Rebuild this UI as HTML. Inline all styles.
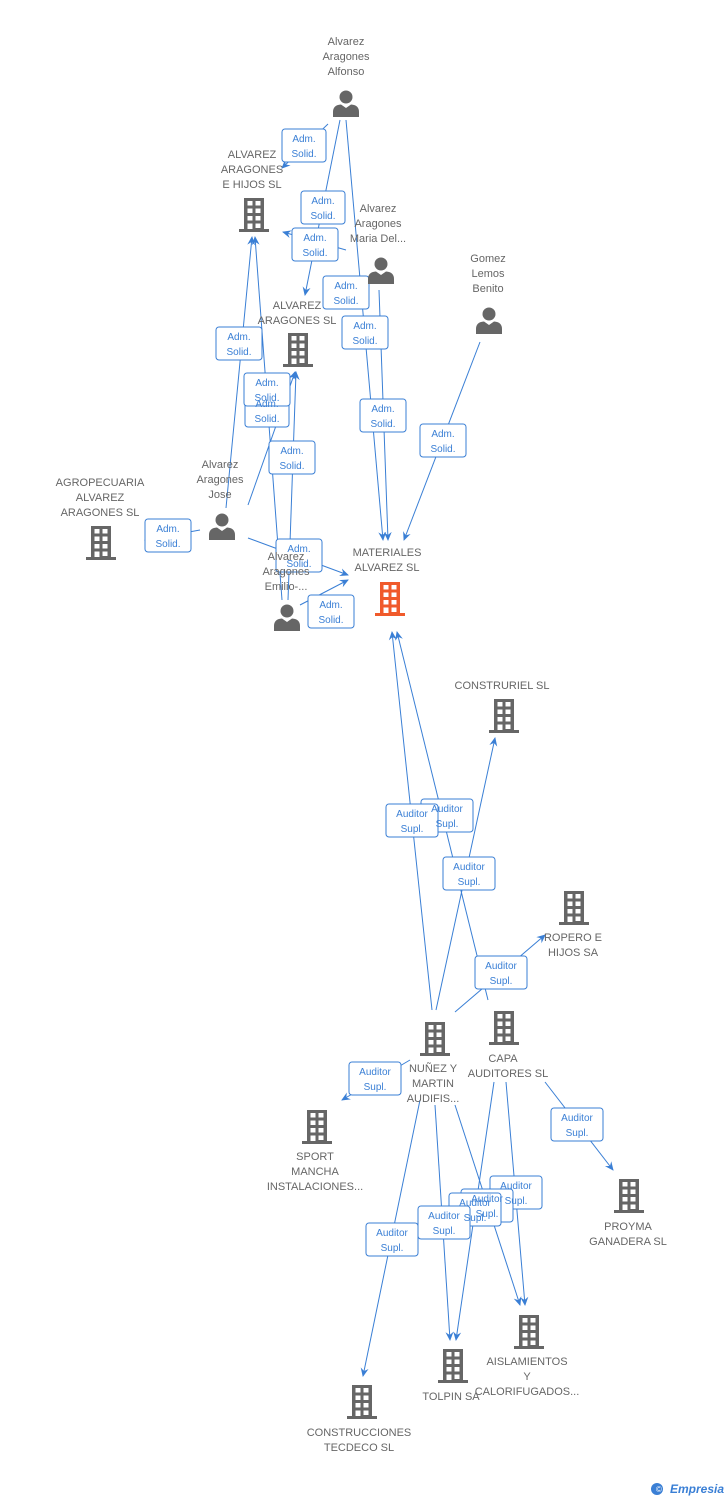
<!DOCTYPE html>
<html><head><meta charset="utf-8"><style>
body{margin:0;background:#fff;width:728px;height:1500px;overflow:hidden}
svg text{font-family:"Liberation Sans",sans-serif;font-size:11px;fill:#666;text-anchor:middle}
.l text{fill:#3a7fd5;font-size:10px}
</style></head><body>
<svg width="728" height="1500" viewBox="0 0 728 1500">
<defs>
<symbol id="b" viewBox="0 0 30 34"><rect x="5" y="0" width="20" height="32" fill="currentColor"/><rect x="0" y="31" width="30" height="3" fill="currentColor"/>
<g fill="#fff"><rect x="8.5" y="3" width="5" height="4.5"/><rect x="16.5" y="3" width="5" height="4.5"/><rect x="8.5" y="10.5" width="5" height="4.5"/><rect x="16.5" y="10.5" width="5" height="4.5"/><rect x="8.5" y="18" width="5" height="4.5"/><rect x="16.5" y="18" width="5" height="4.5"/><rect x="8.5" y="25.5" width="5" height="5.5"/><rect x="16.5" y="25.5" width="5" height="4.5"/></g></symbol>
<symbol id="p" viewBox="0 0 28 28"><circle cx="14" cy="8" r="6.5" fill="#666"/><path d="M1 28 L1 23 Q1 16 9 15.5 L14 19 L19 15.5 Q27 16 27 23 L27 28Z" fill="#666"/></symbol>
<marker id="a" markerWidth="10" markerHeight="10" refX="8" refY="5" orient="auto" markerUnits="userSpaceOnUse"><path d="M0 1 L9 5 L0 9 L3 5Z" fill="#3a7fd5"/></marker>
</defs>
<g stroke="#3a7fd5" stroke-width="1" fill="none" marker-end="url(#a)">
<line x1="328" y1="124" x2="282" y2="168"/>
<line x1="340" y1="120" x2="305" y2="295"/>
<line x1="346" y1="120" x2="383" y2="540"/>
<line x1="346" y1="250" x2="283" y2="232"/>
<line x1="379" y1="290" x2="388" y2="540"/>
<line x1="480" y1="342" x2="404" y2="540"/>
<line x1="226" y1="508" x2="252" y2="237"/>
<line x1="200" y1="530" x2="145" y2="540"/>
<line x1="248" y1="538" x2="348" y2="575"/>
<line x1="248" y1="505" x2="295" y2="372"/>
<line x1="282" y1="600" x2="255" y2="237"/>
<line x1="288" y1="600" x2="296" y2="372"/>
<line x1="300" y1="605" x2="348" y2="580"/>
<line x1="432" y1="1010" x2="392" y2="632"/>
<line x1="488" y1="1000" x2="397" y2="632"/>
<line x1="436" y1="1010" x2="495" y2="738"/>
<line x1="455" y1="1012" x2="545" y2="935"/>
<line x1="410" y1="1060" x2="342" y2="1100"/>
<line x1="420" y1="1100" x2="363" y2="1376"/>
<line x1="435" y1="1105" x2="450" y2="1340"/>
<line x1="455" y1="1105" x2="520" y2="1305"/>
<line x1="494" y1="1082" x2="456" y2="1340"/>
<line x1="506" y1="1082" x2="525" y2="1305"/>
<line x1="545" y1="1082" x2="613" y2="1170"/>
</g>
<g class="l">
<g fill="#fff" stroke="#3a7fd5" stroke-width="1">
<rect x="282" y="129" width="44" height="33" rx="3"/><rect x="301" y="191" width="44" height="33" rx="3"/><rect x="292" y="228" width="46" height="33" rx="3"/><rect x="323" y="276" width="46" height="33" rx="3"/><rect x="342" y="316" width="46" height="33" rx="3"/><rect x="360" y="399" width="46" height="33" rx="3"/><rect x="420" y="424" width="46" height="33" rx="3"/><rect x="216" y="327" width="46" height="33" rx="3"/><rect x="245" y="394" width="44" height="33" rx="3"/><rect x="244" y="373" width="46" height="33" rx="3"/><rect x="269" y="441" width="46" height="33" rx="3"/><rect x="145" y="519" width="46" height="33" rx="3"/><rect x="276" y="539" width="46" height="33" rx="3"/><rect x="308" y="595" width="46" height="33" rx="3"/>
<rect x="421" y="799" width="52" height="33" rx="3"/><rect x="386" y="804" width="52" height="33" rx="3"/><rect x="443" y="857" width="52" height="33" rx="3"/><rect x="475" y="956" width="52" height="33" rx="3"/><rect x="349" y="1062" width="52" height="33" rx="3"/><rect x="551" y="1108" width="52" height="33" rx="3"/><rect x="490" y="1176" width="52" height="33" rx="3"/><rect x="461" y="1189" width="52" height="33" rx="3"/><rect x="449" y="1193" width="52" height="33" rx="3"/><rect x="418" y="1206" width="52" height="33" rx="3"/><rect x="366" y="1223" width="52" height="33" rx="3"/>
</g>
<text x="304" y="142">Adm.</text><text x="304" y="157">Solid.</text>
<text x="323" y="204">Adm.</text><text x="323" y="219">Solid.</text>
<text x="315" y="241">Adm.</text><text x="315" y="256">Solid.</text>
<text x="346" y="289">Adm.</text><text x="346" y="304">Solid.</text>
<text x="365" y="329">Adm.</text><text x="365" y="344">Solid.</text>
<text x="383" y="412">Adm.</text><text x="383" y="427">Solid.</text>
<text x="443" y="437">Adm.</text><text x="443" y="452">Solid.</text>
<text x="239" y="340">Adm.</text><text x="239" y="355">Solid.</text>
<text x="267" y="407">Adm.</text><text x="267" y="422">Solid.</text>
<text x="267" y="386">Adm.</text><text x="267" y="401">Solid.</text>
<text x="292" y="454">Adm.</text><text x="292" y="469">Solid.</text>
<text x="168" y="532">Adm.</text><text x="168" y="547">Solid.</text>
<text x="299" y="552">Adm.</text><text x="299" y="567">Solid.</text>
<text x="331" y="608">Adm.</text><text x="331" y="623">Solid.</text>
<text x="447" y="812">Auditor</text><text x="447" y="827">Supl.</text>
<text x="412" y="817">Auditor</text><text x="412" y="832">Supl.</text>
<text x="469" y="870">Auditor</text><text x="469" y="885">Supl.</text>
<text x="501" y="969">Auditor</text><text x="501" y="984">Supl.</text>
<text x="375" y="1075">Auditor</text><text x="375" y="1090">Supl.</text>
<text x="577" y="1121">Auditor</text><text x="577" y="1136">Supl.</text>
<text x="516" y="1189">Auditor</text><text x="516" y="1204">Supl.</text>
<text x="487" y="1202">Auditor</text><text x="487" y="1217">Supl.</text>
<text x="475" y="1206">Auditor</text><text x="475" y="1221">Supl.</text>
<text x="444" y="1219">Auditor</text><text x="444" y="1234">Supl.</text>
<text x="392" y="1236">Auditor</text><text x="392" y="1251">Supl.</text>
</g>
<g color="#666">
<use href="#p" x="332" y="89" width="28" height="28"/>
<use href="#p" x="367" y="256" width="28" height="28"/>
<use href="#p" x="475" y="306" width="28" height="28"/>
<use href="#p" x="208" y="512" width="28" height="28"/>
<use href="#p" x="273" y="603" width="28" height="28"/>
<use href="#b" x="239" y="198" width="30" height="34"/>
<use href="#b" x="283" y="333" width="30" height="34"/>
<use href="#b" x="86" y="526" width="30" height="34"/>
<use href="#b" x="375" y="582" width="30" height="34" color="#f05a2b"/>
<use href="#b" x="489" y="699" width="30" height="34"/>
<use href="#b" x="559" y="891" width="30" height="34"/>
<use href="#b" x="420" y="1022" width="30" height="34"/>
<use href="#b" x="489" y="1011" width="30" height="34"/>
<use href="#b" x="302" y="1110" width="30" height="34"/>
<use href="#b" x="614" y="1179" width="30" height="34"/>
<use href="#b" x="514" y="1315" width="30" height="34"/>
<use href="#b" x="438" y="1349" width="30" height="34"/>
<use href="#b" x="347" y="1385" width="30" height="34"/>
</g>
<text x="346" y="45">Alvarez</text><text x="346" y="60">Aragones</text><text x="346" y="75">Alfonso</text>
<text x="378" y="212">Alvarez</text><text x="378" y="227">Aragones</text><text x="378" y="242">Maria Del...</text>
<text x="488" y="262">Gomez</text><text x="488" y="277">Lemos</text><text x="488" y="292">Benito</text>
<text x="220" y="468">Alvarez</text><text x="220" y="483">Aragones</text><text x="220" y="498">Jose</text>
<text x="286" y="560">Alvarez</text><text x="286" y="575">Aragones</text><text x="286" y="590">Emilio-...</text>
<text x="252" y="158">ALVAREZ</text><text x="252" y="173">ARAGONES</text><text x="252" y="188">E HIJOS SL</text>
<text x="297" y="309">ALVAREZ</text><text x="297" y="324">ARAGONES SL</text>
<text x="100" y="486">AGROPECUARIA</text><text x="100" y="501">ALVAREZ</text><text x="100" y="516">ARAGONES SL</text>
<text x="387" y="556">MATERIALES</text><text x="387" y="571">ALVAREZ SL</text>
<text x="502" y="689">CONSTRURIEL SL</text>
<text x="573" y="941">ROPERO E</text><text x="573" y="956">HIJOS SA</text>
<text x="433" y="1072">NUÑEZ Y</text><text x="433" y="1087">MARTIN</text><text x="433" y="1102">AUDIFIS...</text>
<text x="503" y="1062">CAPA</text><text x="508" y="1077">AUDITORES  SL</text>
<text x="315" y="1160">SPORT</text><text x="315" y="1175">MANCHA</text><text x="315" y="1190">INSTALACIONES...</text>
<text x="628" y="1230">PROYMA</text><text x="628" y="1245">GANADERA SL</text>
<text x="527" y="1365">AISLAMIENTOS</text><text x="527" y="1380">Y</text><text x="527" y="1395">CALORIFUGADOS...</text>
<text x="451" y="1400">TOLPIN SA</text>
<text x="359" y="1436">CONSTRUCCIONES</text><text x="359" y="1451">TECDECO SL</text>
<circle cx="657" cy="1489" r="6" fill="#3a7fd5"/><text x="659" y="1492" style="fill:#fff;font-size:8px">©</text>
<text x="697" y="1493" style="fill:#3a7fd5;font-size:12px;font-style:italic;font-weight:bold">Empresia</text>
</svg>
</body></html>
